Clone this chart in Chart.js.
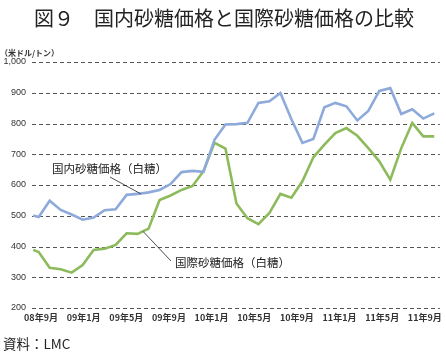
<!DOCTYPE html>
<html><head><meta charset="utf-8">
<script src="https://cdn.jsdelivr.net/npm/chart.js@4"></script>
<style>html,body{margin:0;padding:0;background:#fff}#wrap{width:446px;height:358px}</style>
</head><body><div id="wrap"><canvas id="c" width="446" height="358"></canvas></div>
<script>
// month position (0 = 08年9月, 36 = 11年9月); first sample sits half a month earlier
const monthPos = [-0.5,0,1,2,3,4,5,6,7,8,9,10,11,12,13,14,15,16,17,18,19,20,21,22,23,24,25,26,27,28,29,30,31,32,33,34,35,36];
const domestic = [501,496,549,519,504,487,494,518,521,568,571,576,584,603,642,646,643,747,797,798,802,867,872,899,814,737,750,853,867,856,810,841,906,915,831,846,816,833];
const international = [389,382,331,326,315,340,389,393,405,443,441,458,551,566,584,597,645,737,718,540,492,473,509,571,559,612,690,731,769,785,760,720,677,617,720,802,758,758];
const xTickLabels = ['08年9月','09年1月','09年5月','09年9月','10年1月','10年5月','10年9月','11年1月','11年5月','11年9月'];
const xTickPos = [0,4,8,12,16,20,24,28,32,36];
const yTicks = [200,300,400,500,600,700,800,900,1000];
const seriesNames = ['国内砂糖価格（白糖）','国際砂糖価格（白糖）'];
const titleText = '図９　国内砂糖価格と国際砂糖価格の比較';
const unitText = '（米ドル/トン）';
const sourceText = '資料：LMC';

const JP = '"Noto Sans CJK JP", "Noto Sans", sans-serif';

const toPts = arr => arr.map((v,i)=>({x:monthPos[i], y:v}));

const gridPlugin = {
  id:'dashgrid',
  beforeDatasetsDraw(chart){
    const ctx = chart.ctx, ys = chart.scales.y, a = chart.chartArea;
    ctx.save();
    ctx.strokeStyle = '#555';
    ctx.lineWidth = 1;
    ctx.setLineDash([4,3]);
    ys.ticks.forEach(t=>{
      const y = Math.round(ys.getPixelForValue(t.value)) + 0.5;
      ctx.beginPath(); ctx.moveTo(a.left, y); ctx.lineTo(a.right, y); ctx.stroke();
    });
    ctx.restore();
  }
};

const textPlugin = {
  id:'texts',
  afterDraw(chart){
    const ctx = chart.ctx;
    const xs = chart.scales.x, ys = chart.scales.y;
    ctx.save();
    ctx.fillStyle = '#222';
    ctx.textBaseline = 'middle';
    ctx.textAlign = 'center';
    ctx.font = '400 20px ' + JP;
    ctx.fillText(titleText, 224, 18);
    ctx.textAlign = 'left';
    ctx.font = 'bold 8px ' + JP;
    ctx.fillStyle = '#333';
    ctx.fillText(unitText, 0, 53);
    ctx.font = '400 13.5px ' + JP;
    ctx.fillStyle = '#222';
    ctx.fillText(sourceText, 3, 344);
    // series annotations with leader lines
    ctx.font = '400 11.5px ' + JP;
    ctx.fillStyle = '#222';
    ctx.fillText(seriesNames[0], 52, 169);
    ctx.fillText(seriesNames[1], 175, 263);
    ctx.strokeStyle = '#222';
    ctx.lineWidth = 0.8;
    ctx.beginPath();
    ctx.moveTo(110, 177); ctx.lineTo(xs.getPixelForValue(9.3), ys.getPixelForValue(571));
    ctx.moveTo(171, 261); ctx.lineTo(xs.getPixelForValue(9.5), ys.getPixelForValue(449));
    ctx.stroke();
    ctx.restore();
  }
};

new Chart(document.getElementById('c'), {
  type:'line',
  data:{datasets:[
    {label:seriesNames[0], data:toPts(domestic), borderColor:'#8eaadb', borderWidth:2.6, pointRadius:0, tension:0, xAxisID:'x'},
    {label:seriesNames[1], data:toPts(international), borderColor:'#8dbb5c', borderWidth:2.6, pointRadius:0, tension:0, xAxisID:'x'}
  ]},
  options:{
    responsive:false, animation:false, devicePixelRatio:1,
    layout:{padding:{left:0, top:62, right:6, bottom:30}},
    plugins:{legend:{display:false}, title:{display:false}, tooltip:{enabled:false}},
    scales:{
      x:{type:'linear', position:'bottom', min:-0.61, max:36.51, display:false},
      xl:{type:'linear', position:'bottom', min:-0.844, max:37.41,
        afterBuildTicks:s=>{ s.ticks = xTickPos.map(v=>({value:v})); },
        afterFit:s=>{ s.height = 20; },
        grid:{display:false, drawTicks:false}, border:{display:false},
        ticks:{padding:4, maxRotation:0, autoSkip:false, color:'#333', font:{family:JP, size:9, weight:'bold'},
          callback:(v)=>{ const i = xTickPos.indexOf(v); return i>=0 ? xTickLabels[i] : ''; }}
      },
      y:{type:'linear', min:200, max:1000,
        afterBuildTicks:s=>{ s.ticks = yTicks.map(v=>({value:v})); },
        afterFit:s=>{ s.width = 32; },
        grid:{display:false, drawTicks:false},
        border:{display:false},
        ticks:{padding:6, color:'#333', font:{family:'"Liberation Sans", Arial, sans-serif', size:9},
          callback:v=>v.toLocaleString('en-US')}
      }
    }
  },
  plugins:[gridPlugin, textPlugin]
});
</script></body></html>
